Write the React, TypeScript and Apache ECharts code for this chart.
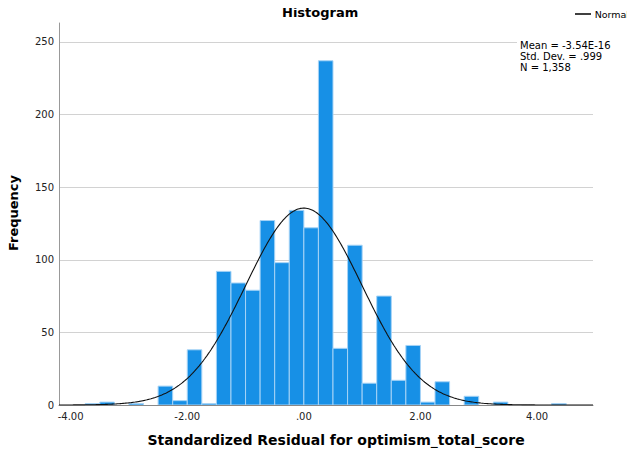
import React, { useEffect, useRef } from "react";
import * as echarts from "echarts";

// Histogram of standardized residuals (bin width 0.25)
const BIN_WIDTH = 0.25;
const BIN_STARTS = [
  -3.75, -3.5, -3.0, -2.5, -2.25, -2.0, -1.75, -1.5, -1.25, -1.0, -0.75, -0.5,
  -0.25, 0.0, 0.25, 0.5, 0.75, 1.0, 1.25, 1.5, 1.75, 2.0, 2.25, 2.75, 3.25, 4.25,
];
const COUNTS = [
  1, 2, 1, 13, 3, 38, 1, 92, 84, 79, 127, 98, 134, 122, 237, 39, 110, 15, 75, 17,
  41, 2, 16, 6, 2, 1,
];

// Summary statistics shown in the corner and used for the fitted normal curve
const MEAN = -3.54e-16;
const SD = 0.999;
const N = 1358;
const STATS_LINES = ["Mean = -3.54E-16", "Std. Dev. = .999", "N = 1,358"];

const X_MIN = -4.2;
const X_MAX = 4.96;
const X_TICKS = [-4, -2, 0, 2, 4];
const Y_MAX = 263;

const FONT = "DejaVu Sans";

function fmtTick(v: number): string {
  if (v === 0) return ".00";
  return v.toFixed(2);
}

function normalCurve(): number[][] {
  const pts: number[][] = [];
  const steps = 400;
  for (let i = 0; i <= steps; i++) {
    const x = X_MIN + ((X_MAX - X_MIN) * i) / steps;
    const z = (x - MEAN) / SD;
    const y = ((N * BIN_WIDTH) / (SD * Math.sqrt(2 * Math.PI))) * Math.exp(-0.5 * z * z);
    pts.push([x, y]);
  }
  return pts;
}

export default function App() {
  const ref = useRef<HTMLDivElement>(null);

  useEffect(() => {
    if (!ref.current) return;
    const chart = echarts.init(ref.current, null, { renderer: "svg" });

    const barData = BIN_STARTS.map((s, i) => [s, s + BIN_WIDTH, COUNTS[i]]);

    chart.setOption({
      animation: false,
      backgroundColor: "#ffffff",
      textStyle: { fontFamily: FONT },
      grid: { left: 59, right: 42, top: 23, bottom: 51, containLabel: false },
      xAxis: {
        type: "value",
        min: X_MIN,
        max: X_MAX,
        axisLine: { show: true, onZero: false, lineStyle: { color: "#888888", width: 1 } },
        axisTick: { show: false },
        splitLine: { show: false },
        axisLabel: {
          customValues: X_TICKS,
          formatter: (v: number) => fmtTick(v),
          fontFamily: FONT,
          fontSize: 10,
          color: "#222222",
          margin: 6,
        },
      },
      yAxis: {
        type: "value",
        min: 0,
        max: Y_MAX,
        interval: 50,
        axisLine: { show: true, onZero: false, lineStyle: { color: "#999999", width: 1 } },
        axisTick: { show: false },
        splitLine: {
          show: true,
          showMaxLine: false,
          lineStyle: { color: "#d2d2d2", width: 1 },
        },
        axisLabel: {
          fontFamily: FONT,
          fontSize: 10,
          color: "#222222",
          margin: 5,
          showMaxLabel: false,
        },
      },
      graphic: [
        {
          type: "text",
          left: 282,
          top: 6,
          style: {
            text: "Histogram",
            fontFamily: FONT,
            fontSize: 13,
            fontWeight: "bold",
            fill: "#000000",
          },
        },
        // legend key for the normal curve
        {
          type: "line",
          shape: { x1: 575, y1: 14, x2: 591, y2: 14 },
          style: { stroke: "#000000", lineWidth: 1.5 },
        },
        {
          type: "text",
          x: 629,
          y: 14,
          style: {
            text: "Normal",
            fontFamily: FONT,
            fontSize: 9.5,
            fill: "#000000",
            align: "right",
            verticalAlign: "middle",
          },
        },
        {
          // white box behind the statistics block
          type: "rect",
          shape: { x: 517, y: 39, width: 80, height: 35 },
          style: { fill: "#ffffff" },
          z: 10,
        },
        {
          type: "text",
          left: 520,
          top: 40,
          z: 11,
          style: {
            text: STATS_LINES.join("\n"),
            fontFamily: FONT,
            fontSize: 10,
            lineHeight: 11,
            fill: "#000000",
          },
        },
        {
          type: "text",
          x: 13,
          y: 213,
          rotation: Math.PI / 2,
          style: {
            text: "Frequency",
            fontFamily: FONT,
            fontSize: 13,
            fontWeight: "bold",
            fill: "#000000",
            align: "center",
            verticalAlign: "middle",
          },
        },
        {
          type: "text",
          x: 336,
          y: 440,
          style: {
            text: "Standardized Residual for optimism_total_score",
            fontFamily: FONT,
            fontSize: 14,
            fontWeight: "bold",
            fill: "#000000",
            align: "center",
            verticalAlign: "middle",
          },
        },
      ],
      series: [
        {
          type: "custom",
          name: "Bars",
          data: barData,
          encode: { x: [0, 1], y: 2 },
          clip: true,
          z: 2,
          renderItem: (params: any, api: any) => {
            const x0 = api.value(0);
            const x1 = api.value(1);
            const c = api.value(2);
            const p0 = api.coord([x0, c]);
            const p1 = api.coord([x1, 0]);
            return {
              type: "rect",
              shape: { x: p0[0], y: p0[1], width: p1[0] - p0[0], height: p1[1] - p0[1] },
              style: { fill: "#1790e6", stroke: "#a6d3f6", lineWidth: 1 },
            };
          },
        },
        {
          type: "line",
          name: "Normal",
          data: normalCurve(),
          showSymbol: false,
          symbol: "none",
          smooth: false,
          z: 3,
          lineStyle: { color: "#111111", width: 1.1 },
          itemStyle: { color: "#000000" },
        },
      ],
    });

    return () => chart.dispose();
  }, []);

  return <div ref={ref} style={{ width: 635, height: 456, margin: -8 }} />;
}
